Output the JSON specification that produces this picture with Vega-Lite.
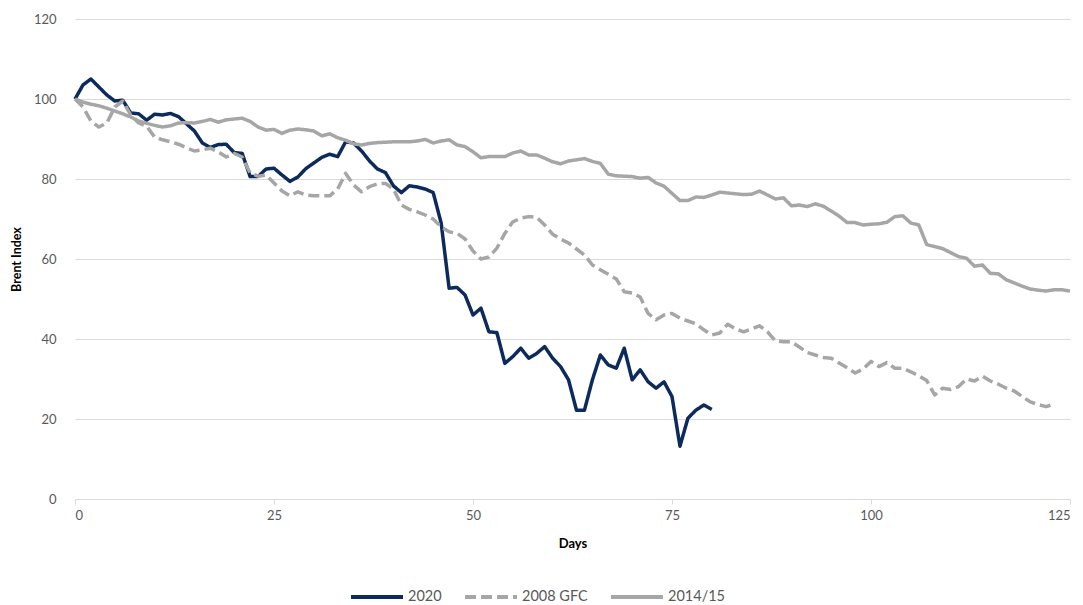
{
"$schema": "https://vega.github.io/schema/vega-lite/v6.json",
"width": 995, "height": 480,
"autosize": "none",
"padding": {"left": 75, "top": 19, "right": 13, "bottom": 106},
"background": "white",
"config": {"view": {"stroke": null}, "font": "Lato"},
"data": {"values": [
{"series":"2020","day":0,"value":100},{"series":"2020","day":1,"value":103.5},{"series":"2020","day":2,"value":105},{"series":"2020","day":3,"value":103},{"series":"2020","day":4,"value":101},{"series":"2020","day":5,"value":99.5},{"series":"2020","day":6,"value":99.7},{"series":"2020","day":7,"value":96.5},{"series":"2020","day":8,"value":96.3},{"series":"2020","day":9,"value":94.7},
{"series":"2020","day":10,"value":96.2},{"series":"2020","day":11,"value":96},{"series":"2020","day":12,"value":96.4},{"series":"2020","day":13,"value":95.6},{"series":"2020","day":14,"value":93.8},{"series":"2020","day":15,"value":92},{"series":"2020","day":16,"value":89},{"series":"2020","day":17,"value":87.9},{"series":"2020","day":18,"value":88.6},{"series":"2020","day":19,"value":88.7},
{"series":"2020","day":20,"value":86.6},{"series":"2020","day":21,"value":86.4},{"series":"2020","day":22,"value":80.6},{"series":"2020","day":23,"value":80.6},{"series":"2020","day":24,"value":82.5},{"series":"2020","day":25,"value":82.7},{"series":"2020","day":26,"value":81},{"series":"2020","day":27,"value":79.4},{"series":"2020","day":28,"value":80.5},{"series":"2020","day":29,"value":82.6},
{"series":"2020","day":30,"value":84},{"series":"2020","day":31,"value":85.4},{"series":"2020","day":32,"value":86.2},{"series":"2020","day":33,"value":85.6},{"series":"2020","day":34,"value":89.3},{"series":"2020","day":35,"value":89},{"series":"2020","day":36,"value":87},{"series":"2020","day":37,"value":84.5},{"series":"2020","day":38,"value":82.5},{"series":"2020","day":39,"value":81.6},
{"series":"2020","day":40,"value":78.3},{"series":"2020","day":41,"value":76.6},{"series":"2020","day":42,"value":78.3},{"series":"2020","day":43,"value":78},{"series":"2020","day":44,"value":77.5},{"series":"2020","day":45,"value":76.6},{"series":"2020","day":46,"value":69},{"series":"2020","day":47,"value":52.7},{"series":"2020","day":48,"value":52.9},{"series":"2020","day":49,"value":51},
{"series":"2020","day":50,"value":46},{"series":"2020","day":51,"value":47.7},{"series":"2020","day":52,"value":41.8},{"series":"2020","day":53,"value":41.6},{"series":"2020","day":54,"value":33.9},{"series":"2020","day":55,"value":35.6},{"series":"2020","day":56,"value":37.7},{"series":"2020","day":57,"value":35.2},{"series":"2020","day":58,"value":36.4},{"series":"2020","day":59,"value":38.1},
{"series":"2020","day":60,"value":35.2},{"series":"2020","day":61,"value":33.1},{"series":"2020","day":62,"value":29.8},{"series":"2020","day":63,"value":22.2},{"series":"2020","day":64,"value":22.2},{"series":"2020","day":65,"value":29.8},{"series":"2020","day":66,"value":36},{"series":"2020","day":67,"value":33.5},{"series":"2020","day":68,"value":32.7},{"series":"2020","day":69,"value":37.7},
{"series":"2020","day":70,"value":29.8},{"series":"2020","day":71,"value":32.3},{"series":"2020","day":72,"value":29.3},{"series":"2020","day":73,"value":27.7},{"series":"2020","day":74,"value":29.3},{"series":"2020","day":75,"value":25.6},{"series":"2020","day":76,"value":13.2},{"series":"2020","day":77,"value":20.2},{"series":"2020","day":78,"value":22.2},{"series":"2020","day":79,"value":23.5},
{"series":"2020","day":80,"value":22.4},
{"series":"2008 GFC","day":0,"value":100},{"series":"2008 GFC","day":1,"value":98},{"series":"2008 GFC","day":2,"value":94.5},{"series":"2008 GFC","day":3,"value":93},{"series":"2008 GFC","day":4,"value":94},{"series":"2008 GFC","day":5,"value":98},{"series":"2008 GFC","day":6,"value":99.5},{"series":"2008 GFC","day":7,"value":96},{"series":"2008 GFC","day":8,"value":94},{"series":"2008 GFC","day":9,"value":93.2},
{"series":"2008 GFC","day":10,"value":90.5},{"series":"2008 GFC","day":11,"value":89.8},{"series":"2008 GFC","day":12,"value":89.3},{"series":"2008 GFC","day":13,"value":88.7},{"series":"2008 GFC","day":14,"value":87.8},{"series":"2008 GFC","day":15,"value":87},{"series":"2008 GFC","day":16,"value":87.3},{"series":"2008 GFC","day":17,"value":87.7},{"series":"2008 GFC","day":18,"value":86.8},{"series":"2008 GFC","day":19,"value":85.5},
{"series":"2008 GFC","day":20,"value":86.4},{"series":"2008 GFC","day":21,"value":85.5},{"series":"2008 GFC","day":22,"value":81.5},{"series":"2008 GFC","day":23,"value":80.7},{"series":"2008 GFC","day":24,"value":81},{"series":"2008 GFC","day":25,"value":79},{"series":"2008 GFC","day":26,"value":77},{"series":"2008 GFC","day":27,"value":75.8},{"series":"2008 GFC","day":28,"value":76.8},{"series":"2008 GFC","day":29,"value":76},
{"series":"2008 GFC","day":30,"value":75.8},{"series":"2008 GFC","day":31,"value":75.8},{"series":"2008 GFC","day":32,"value":75.8},{"series":"2008 GFC","day":33,"value":77.5},{"series":"2008 GFC","day":34,"value":81.4},{"series":"2008 GFC","day":35,"value":78.5},{"series":"2008 GFC","day":36,"value":76.8},{"series":"2008 GFC","day":37,"value":78.1},{"series":"2008 GFC","day":38,"value":78.8},{"series":"2008 GFC","day":39,"value":78.9},
{"series":"2008 GFC","day":40,"value":77.5},{"series":"2008 GFC","day":41,"value":73.5},{"series":"2008 GFC","day":42,"value":72.4},{"series":"2008 GFC","day":43,"value":71.8},{"series":"2008 GFC","day":44,"value":71},{"series":"2008 GFC","day":45,"value":70},{"series":"2008 GFC","day":46,"value":68},{"series":"2008 GFC","day":47,"value":66.8},{"series":"2008 GFC","day":48,"value":66.4},{"series":"2008 GFC","day":49,"value":65},
{"series":"2008 GFC","day":50,"value":62},{"series":"2008 GFC","day":51,"value":60},{"series":"2008 GFC","day":52,"value":60.5},{"series":"2008 GFC","day":53,"value":62.7},{"series":"2008 GFC","day":54,"value":66.4},{"series":"2008 GFC","day":55,"value":69.3},{"series":"2008 GFC","day":56,"value":70.2},{"series":"2008 GFC","day":57,"value":70.6},{"series":"2008 GFC","day":58,"value":70.4},{"series":"2008 GFC","day":59,"value":68.5},
{"series":"2008 GFC","day":60,"value":66.2},{"series":"2008 GFC","day":61,"value":65},{"series":"2008 GFC","day":62,"value":64},{"series":"2008 GFC","day":63,"value":62.5},{"series":"2008 GFC","day":64,"value":61},{"series":"2008 GFC","day":65,"value":58.5},{"series":"2008 GFC","day":66,"value":57.3},{"series":"2008 GFC","day":67,"value":56.2},{"series":"2008 GFC","day":68,"value":55},{"series":"2008 GFC","day":69,"value":51.8},
{"series":"2008 GFC","day":70,"value":51.5},{"series":"2008 GFC","day":71,"value":50.5},{"series":"2008 GFC","day":72,"value":46.4},{"series":"2008 GFC","day":73,"value":44.8},{"series":"2008 GFC","day":74,"value":46},{"series":"2008 GFC","day":75,"value":46.4},{"series":"2008 GFC","day":76,"value":45.2},{"series":"2008 GFC","day":77,"value":44.5},{"series":"2008 GFC","day":78,"value":43.8},{"series":"2008 GFC","day":79,"value":42.3},
{"series":"2008 GFC","day":80,"value":41},{"series":"2008 GFC","day":81,"value":41.5},{"series":"2008 GFC","day":82,"value":43.7},{"series":"2008 GFC","day":83,"value":42.5},{"series":"2008 GFC","day":84,"value":41.8},{"series":"2008 GFC","day":85,"value":42.5},{"series":"2008 GFC","day":86,"value":43.3},{"series":"2008 GFC","day":87,"value":41.8},{"series":"2008 GFC","day":88,"value":39.5},{"series":"2008 GFC","day":89,"value":39.3},
{"series":"2008 GFC","day":90,"value":39.3},{"series":"2008 GFC","day":91,"value":38},{"series":"2008 GFC","day":92,"value":36.6},{"series":"2008 GFC","day":93,"value":36},{"series":"2008 GFC","day":94,"value":35.4},{"series":"2008 GFC","day":95,"value":35.2},{"series":"2008 GFC","day":96,"value":34},{"series":"2008 GFC","day":97,"value":32.8},{"series":"2008 GFC","day":98,"value":31.5},{"series":"2008 GFC","day":99,"value":32.5},
{"series":"2008 GFC","day":100,"value":34.4},{"series":"2008 GFC","day":101,"value":33.1},{"series":"2008 GFC","day":102,"value":34.1},{"series":"2008 GFC","day":103,"value":32.7},{"series":"2008 GFC","day":104,"value":32.7},{"series":"2008 GFC","day":105,"value":31.8},{"series":"2008 GFC","day":106,"value":30.8},{"series":"2008 GFC","day":107,"value":29.6},{"series":"2008 GFC","day":108,"value":26},{"series":"2008 GFC","day":109,"value":27.7},
{"series":"2008 GFC","day":110,"value":27.4},{"series":"2008 GFC","day":111,"value":28.1},{"series":"2008 GFC","day":112,"value":30},{"series":"2008 GFC","day":113,"value":29.5},{"series":"2008 GFC","day":114,"value":30.7},{"series":"2008 GFC","day":115,"value":29.5},{"series":"2008 GFC","day":116,"value":28.7},{"series":"2008 GFC","day":117,"value":27.7},{"series":"2008 GFC","day":118,"value":27},{"series":"2008 GFC","day":119,"value":25.6},
{"series":"2008 GFC","day":120,"value":24.3},{"series":"2008 GFC","day":121,"value":23.6},{"series":"2008 GFC","day":122,"value":23.1},{"series":"2008 GFC","day":123,"value":23.7},
{"series":"2014/15","day":0,"value":100},{"series":"2014/15","day":1,"value":99.2},{"series":"2014/15","day":2,"value":98.7},{"series":"2014/15","day":3,"value":98.3},{"series":"2014/15","day":4,"value":97.7},{"series":"2014/15","day":5,"value":97},{"series":"2014/15","day":6,"value":96.3},{"series":"2014/15","day":7,"value":95.5},{"series":"2014/15","day":8,"value":94.5},{"series":"2014/15","day":9,"value":93.9},
{"series":"2014/15","day":10,"value":93.4},{"series":"2014/15","day":11,"value":93},{"series":"2014/15","day":12,"value":93.3},{"series":"2014/15","day":13,"value":94},{"series":"2014/15","day":14,"value":94.1},{"series":"2014/15","day":15,"value":94},{"series":"2014/15","day":16,"value":94.4},{"series":"2014/15","day":17,"value":94.9},{"series":"2014/15","day":18,"value":94.2},{"series":"2014/15","day":19,"value":94.8},
{"series":"2014/15","day":20,"value":95},{"series":"2014/15","day":21,"value":95.2},{"series":"2014/15","day":22,"value":94.4},{"series":"2014/15","day":23,"value":93},{"series":"2014/15","day":24,"value":92.2},{"series":"2014/15","day":25,"value":92.4},{"series":"2014/15","day":26,"value":91.4},{"series":"2014/15","day":27,"value":92.2},{"series":"2014/15","day":28,"value":92.5},{"series":"2014/15","day":29,"value":92.3},
{"series":"2014/15","day":30,"value":92},{"series":"2014/15","day":31,"value":90.8},{"series":"2014/15","day":32,"value":91.3},{"series":"2014/15","day":33,"value":90.3},{"series":"2014/15","day":34,"value":89.7},{"series":"2014/15","day":35,"value":88.8},{"series":"2014/15","day":36,"value":88.5},{"series":"2014/15","day":37,"value":88.9},{"series":"2014/15","day":38,"value":89.1},{"series":"2014/15","day":39,"value":89.2},
{"series":"2014/15","day":40,"value":89.3},{"series":"2014/15","day":41,"value":89.3},{"series":"2014/15","day":42,"value":89.3},{"series":"2014/15","day":43,"value":89.5},{"series":"2014/15","day":44,"value":89.9},{"series":"2014/15","day":45,"value":89},{"series":"2014/15","day":46,"value":89.5},{"series":"2014/15","day":47,"value":89.8},{"series":"2014/15","day":48,"value":88.5},{"series":"2014/15","day":49,"value":88.1},
{"series":"2014/15","day":50,"value":86.8},{"series":"2014/15","day":51,"value":85.3},{"series":"2014/15","day":52,"value":85.6},{"series":"2014/15","day":53,"value":85.6},{"series":"2014/15","day":54,"value":85.6},{"series":"2014/15","day":55,"value":86.5},{"series":"2014/15","day":56,"value":87},{"series":"2014/15","day":57,"value":86},{"series":"2014/15","day":58,"value":86},{"series":"2014/15","day":59,"value":85.2},
{"series":"2014/15","day":60,"value":84.3},{"series":"2014/15","day":61,"value":83.8},{"series":"2014/15","day":62,"value":84.5},{"series":"2014/15","day":63,"value":84.8},{"series":"2014/15","day":64,"value":85.1},{"series":"2014/15","day":65,"value":84.4},{"series":"2014/15","day":66,"value":83.9},{"series":"2014/15","day":67,"value":81.2},{"series":"2014/15","day":68,"value":80.8},{"series":"2014/15","day":69,"value":80.7},
{"series":"2014/15","day":70,"value":80.6},{"series":"2014/15","day":71,"value":80.2},{"series":"2014/15","day":72,"value":80.4},{"series":"2014/15","day":73,"value":79},{"series":"2014/15","day":74,"value":78.2},{"series":"2014/15","day":75,"value":76.4},{"series":"2014/15","day":76,"value":74.6},{"series":"2014/15","day":77,"value":74.6},{"series":"2014/15","day":78,"value":75.5},{"series":"2014/15","day":79,"value":75.4},
{"series":"2014/15","day":80,"value":76},{"series":"2014/15","day":81,"value":76.7},{"series":"2014/15","day":82,"value":76.5},{"series":"2014/15","day":83,"value":76.3},{"series":"2014/15","day":84,"value":76.1},{"series":"2014/15","day":85,"value":76.2},{"series":"2014/15","day":86,"value":77},{"series":"2014/15","day":87,"value":76},{"series":"2014/15","day":88,"value":75},{"series":"2014/15","day":89,"value":75.3},
{"series":"2014/15","day":90,"value":73.3},{"series":"2014/15","day":91,"value":73.5},{"series":"2014/15","day":92,"value":73.1},{"series":"2014/15","day":93,"value":73.8},{"series":"2014/15","day":94,"value":73.2},{"series":"2014/15","day":95,"value":72},{"series":"2014/15","day":96,"value":70.7},{"series":"2014/15","day":97,"value":69.1},{"series":"2014/15","day":98,"value":69.1},{"series":"2014/15","day":99,"value":68.5},
{"series":"2014/15","day":100,"value":68.7},{"series":"2014/15","day":101,"value":68.8},{"series":"2014/15","day":102,"value":69.2},{"series":"2014/15","day":103,"value":70.6},{"series":"2014/15","day":104,"value":70.8},{"series":"2014/15","day":105,"value":69},{"series":"2014/15","day":106,"value":68.5},{"series":"2014/15","day":107,"value":63.6},{"series":"2014/15","day":108,"value":63.1},{"series":"2014/15","day":109,"value":62.6},
{"series":"2014/15","day":110,"value":61.6},{"series":"2014/15","day":111,"value":60.6},{"series":"2014/15","day":112,"value":60.2},{"series":"2014/15","day":113,"value":58.2},{"series":"2014/15","day":114,"value":58.5},{"series":"2014/15","day":115,"value":56.4},{"series":"2014/15","day":116,"value":56.3},{"series":"2014/15","day":117,"value":54.8},{"series":"2014/15","day":118,"value":54},{"series":"2014/15","day":119,"value":53.2},
{"series":"2014/15","day":120,"value":52.5},{"series":"2014/15","day":121,"value":52.2},{"series":"2014/15","day":122,"value":52},{"series":"2014/15","day":123,"value":52.3},{"series":"2014/15","day":124,"value":52.3},{"series":"2014/15","day":125,"value":52}
]},
"mark": {"type": "line", "strokeWidth": 3.5, "strokeJoin": "round", "strokeCap": "butt"},
"encoding": {
  "x": {"field": "day", "type": "quantitative",
        "scale": {"domain": [0, 125], "nice": false, "zero": false},
        "axis": {"values": [0, 25, 50, 75, 100, 125], "title": "Days", "grid": false,
                 "domain": true, "domainColor": "#d9d9d9", "domainWidth": 1,
                 "ticks": true, "tickColor": "#d9d9d9", "tickSize": 5,
                 "labelFont": "Lato", "labelFontSize": 13, "labelColor": "#595959", "labelPadding": 5,
                 "titleFont": "Lato", "titleFontSize": 13, "titleFontWeight": "bold", "titleColor": "#000000", "titlePadding": 15}},
  "y": {"field": "value", "type": "quantitative",
        "scale": {"domain": [0, 120], "nice": false},
        "axis": {"values": [0, 20, 40, 60, 80, 100, 120], "title": "Brent Index",
                 "grid": true, "gridColor": "#d9d9d9", "gridWidth": 1,
                 "domain": false, "ticks": false,
                 "labelFont": "Lato", "labelFontSize": 13, "labelColor": "#595959", "labelPadding": 19,
                 "titleFont": "Lato", "titleFontSize": 12.5, "titleFontWeight": "bold", "titleColor": "#000000", "titlePadding": 10}},
  "color": {"field": "series", "type": "nominal",
            "sort": ["2020", "2008 GFC", "2014/15"],
            "scale": {"domain": ["2020", "2008 GFC", "2014/15"], "range": ["#0c2a5c", "#a6a6a6", "#a6a6a6"]},
            "legend": {"orient": "none", "legendX": 274, "legendY": 550, "direction": "horizontal",
                       "title": null, "symbolType": "stroke", "symbolSize": 2704, "symbolStrokeWidth": 4,
                       "labelFont": "Lato", "labelFontSize": 14.5, "labelColor": "#595959", "labelOffset": 3,
                       "columnPadding": 15}},
  "strokeDash": {"field": "series", "type": "nominal",
                 "sort": ["2020", "2008 GFC", "2014/15"],
                 "scale": {"domain": ["2020", "2008 GFC", "2014/15"], "range": [[1, 0], [11, 5], [1, 0]]},
                 "legend": {"orient": "none", "legendX": 274, "legendY": 550, "direction": "horizontal",
                       "title": null, "symbolType": "stroke", "symbolSize": 2704, "symbolStrokeWidth": 4,
                       "labelFont": "Lato", "labelFontSize": 14.5, "labelColor": "#595959", "labelOffset": 3,
                       "columnPadding": 15}},
  "order": {"field": "day", "type": "quantitative"}
}
}
